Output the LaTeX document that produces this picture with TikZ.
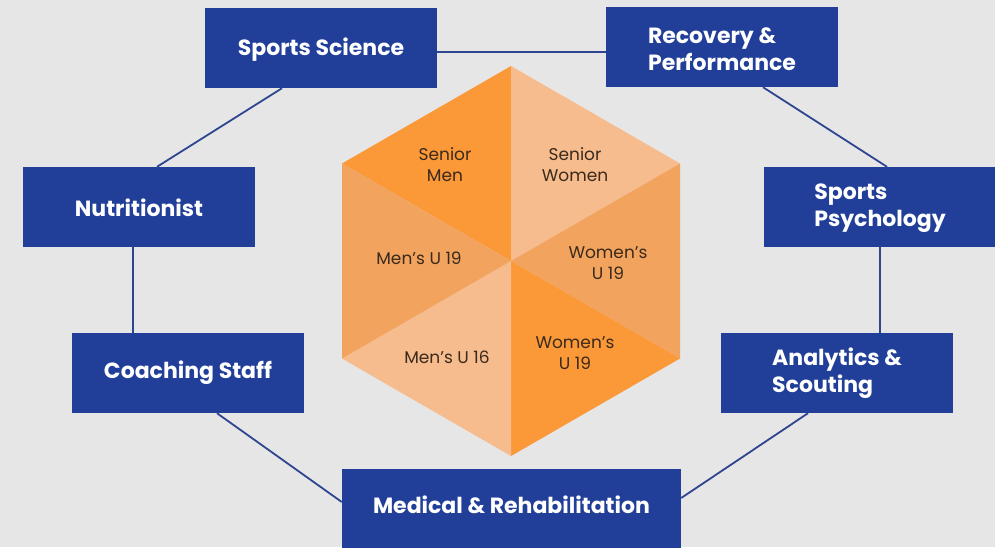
\documentclass[tikz,border=0pt]{standalone}
\usepackage{fontspec}
\setmainfont{Poppins}
\definecolor{bg}{HTML}{E6E6E6}
\definecolor{navy}{HTML}{213F99}
\definecolor{lnk}{HTML}{2E4590}
\definecolor{ordark}{HTML}{FB9838}
\definecolor{ormid}{HTML}{F2A35E}
\definecolor{orlight}{HTML}{F6BC8E}
\definecolor{hextext}{HTML}{3A2A1C}
\begin{document}
\begin{tikzpicture}[x=1pt,y=-1pt,
  box/.style={draw=none,fill=navy,minimum width=232pt,minimum height=80pt,inner sep=0pt},
  boxtext/.style={text=white,font=\fontsize{22}{26.5}\selectfont\bfseries,align=left,inner sep=0pt},
  hexlabel/.style={text=hextext,font=\fontsize{17}{21}\selectfont,align=center,inner sep=0pt},
  link/.style={draw=lnk,line width=1.8pt}]
\fill[bg] (0,0) rectangle (995,547);
\useasboundingbox (0,0) rectangle (995,547);
% hexagon
\coordinate (c) at (511,261);
\coordinate (t) at (511,66);
\coordinate (b) at (511,456);
\coordinate (ul) at (342,163.5);
\coordinate (ll) at (342,358.5);
\coordinate (ur) at (680,163.5);
\coordinate (lr) at (680,358.5);
\fill[ordark] (c) -- (t) -- (ul) -- cycle;
\fill[orlight] (c) -- (t) -- (ur) -- cycle;
\fill[ormid] (c) -- (ur) -- (lr) -- cycle;
\fill[ordark] (c) -- (lr) -- (b) -- cycle;
\fill[orlight] (c) -- (b) -- (ll) -- cycle;
\fill[ormid] (c) -- (ll) -- (ul) -- cycle;
\node[hexlabel] (sm) at (445,165) {Senior\\Men};
\node[hexlabel] (sw) at (575,165) {Senior\\Women};
\node[hexlabel] (m19) at (419,258) {Men’s U 19};
\node[hexlabel] (w19a) at (608,263) {Women’s\\U 19};
\node[hexlabel] (m16) at (447,357) {Men’s U 16};
\node[hexlabel] (w19b) at (575,353) {Women’s\\U 19};
% boxes
\node[box] (ss) at (321,48) {};
\node[boxtext] at (321,49.5) {Sports Science};
\node[box] (rp) at (722,47) {};
\node[boxtext] at (722,49) {Recovery \&\\Performance};
\node[box] (nu) at (139,207) {};
\node[boxtext] at (139,208) {Nutritionist};
\node[box] (sp) at (880,207) {};
\node[boxtext] at (880,208) {Sports\\Psychology};
\node[box] (cs) at (188,373) {};
\node[boxtext] at (188,372.5) {Coaching Staff};
\node[box] (an) at (837,373) {};
\node[boxtext] at (837,373) {Analytics \&\\Scouting};
\node[box,minimum width=339pt] (md) at (511.5,509) {};
\node[boxtext] at (511.5,505) {Medical \& Rehabilitation};
% connectors
\draw[link] (ss.east |- 0,52) -- (rp.west |- 0,52);
\draw[link] (ss.south -| 282,0) -- (nu.north -| 157,0);
\draw[link] (nu.south -| 133,0) -- (cs.north -| 133,0);
\draw[link] (cs.south -| 217,0) -- (md.west |- 0,502);
\draw[link] (md.east |- 0,498) -- (an.south -| 808,0);
\draw[link] (an.north -| 880,0) -- (sp.south -| 880,0);
\draw[link] (sp.north -| 887,0) -- (rp.south -| 763,0);
\end{tikzpicture}
\end{document}
